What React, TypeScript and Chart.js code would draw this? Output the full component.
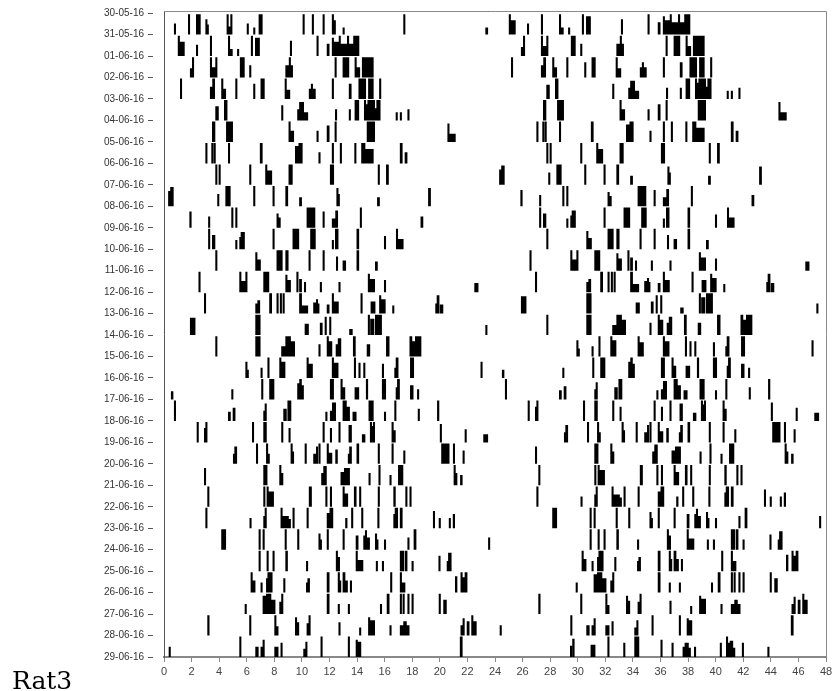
import React, { useEffect, useRef } from 'react';
import { Chart, registerables } from 'chart.js';

Chart.register(...registerables);

const dateLabels = [
  '30-05-16', '31-05-16', '01-06-16', '02-06-16', '03-06-16', '04-06-16', '05-06-16', '06-06-16',
  '07-06-16', '08-06-16', '09-06-16', '10-06-16', '11-06-16', '12-06-16', '13-06-16', '14-06-16',
  '15-06-16', '16-06-16', '17-06-16', '18-06-16', '19-06-16', '20-06-16', '21-06-16', '22-06-16',
  '23-06-16', '24-06-16', '25-06-16', '26-06-16', '27-06-16', '28-06-16', '29-06-16',
];

const hourTickStep = 2;
const hourMax = 48;

// Activity bouts per day: [start hour, duration hours, relative height 0..1]
const day00 = [[0.72,0.12,0.55],[1.74,0.12,1],[2.32,0.34,1],[3.0,0.1,0.75],[3.1,0.14,0.5],[4.54,0.12,1],[4.66,0.15,0.4],[4.81,0.12,1],[6.0,0.14,0.55],[6.47,0.14,0.35],[6.86,0.29,1],[10.05,0.12,1],[10.72,0.12,1],[11.5,0.12,1],[12.17,0.1,1],[12.27,0.19,0.7],[12.95,0.15,0.35],[17.35,0.13,1],[23.3,0.2,0.35]];
const day01 = [[1.0,0.12,1],[1.12,0.38,0.7],[2.32,0.15,0.55],[3.33,0.15,1],[4.64,0.14,1],[4.78,0.2,0.35],[5.3,0.15,0.35],[6.3,0.12,1],[6.6,0.35,0.9],[9.13,0.15,0.75],[11.06,0.12,1],[11.8,0.2,0.6],[12.17,0.1,0.9],[12.27,0.4,0.7],[12.67,0.1,1],[12.77,0.5,0.6],[13.27,0.1,1],[13.37,0.35,0.6],[13.72,0.44,1]];
const day02 = [[1.88,0.15,0.45],[2.03,0.12,1],[3.33,0.15,1],[3.48,0.25,0.5],[3.72,0.15,1],[5.5,0.35,1],[6.18,0.12,0.6],[8.8,0.25,0.6],[9.05,0.1,1],[9.15,0.2,0.6],[12.37,0.12,1],[12.95,0.48,1],[13.82,0.1,1],[13.92,0.3,0.5],[14.35,0.85,1]];
const day03 = [[1.16,0.14,1],[3.33,0.17,0.6],[3.5,0.2,1],[4.15,0.1,1],[4.25,0.25,0.5],[5.17,0.13,1],[6.47,0.13,0.75],[7.0,0.3,1],[8.75,0.1,1],[8.85,0.3,0.45],[10.5,0.15,0.5],[10.65,0.12,0.75],[10.77,0.23,0.5],[12.17,0.12,1],[13.4,0.2,0.75],[14.1,0.55,1],[14.8,0.4,1],[15.6,0.12,1]];
const day04 = [[3.72,0.25,0.7],[4.35,0.25,1],[8.5,0.12,0.75],[9.66,0.15,0.55],[9.8,0.35,0.9],[10.15,0.3,0.4],[12.4,0.12,0.55],[13.4,0.12,0.55],[13.82,0.33,1],[14.5,0.1,1],[14.65,0.1,0.8],[14.75,0.55,1],[15.3,0.1,0.6],[15.4,0.3,1],[16.8,0.15,0.4],[17.1,0.15,0.4],[17.65,0.12,0.55]];
const day05 = [[3.48,0.24,1],[4.5,0.5,1],[9.03,0.1,1],[9.13,0.3,0.55],[11.06,0.12,0.55],[11.8,0.2,0.8],[12.37,0.12,1],[14.7,0.6,1],[20.55,0.15,0.9],[20.7,0.45,0.4]];
const day06 = [[3.0,0.12,1],[3.43,0.1,1],[3.6,0.1,1],[4.64,0.15,1],[6.95,0.2,1],[9.5,0.25,0.85],[9.75,0.3,1],[11.2,0.15,0.55],[12.17,0.12,1],[12.75,0.12,1],[13.8,0.12,1],[14.3,0.1,1],[14.45,0.1,1],[14.6,0.6,0.7],[17.1,0.2,1],[17.45,0.2,0.55]];
const day07 = [[3.72,0.12,1],[3.96,0.12,1],[6.18,0.12,1],[7.34,0.1,1],[7.44,0.4,0.7],[9.03,0.3,1],[12.03,0.3,1],[15.5,0.12,1],[16.1,0.2,1]];
const day08 = [[0.3,0.15,0.75],[0.45,0.25,0.95],[3.86,0.12,0.6],[4.45,0.38,1],[6.47,0.15,1],[7.87,0.13,1],[8.8,0.2,1],[9.8,0.2,0.45],[12.5,0.1,0.9],[12.6,0.15,0.6],[15.45,0.2,0.45],[19.15,0.2,0.9]];
const day09 = [[1.84,0.16,0.8],[3.2,0.15,0.55],[4.88,0.15,1],[5.17,0.13,1],[8.16,0.1,0.7],[8.26,0.2,0.5],[10.34,0.63,1],[11.5,0.15,0.8],[12.17,0.25,0.45],[12.42,0.2,0.85],[14.2,0.15,1],[18.6,0.2,0.55]];
const day10 = [[3.2,0.15,1],[3.48,0.24,0.7],[5.17,0.13,0.45],[5.46,0.1,0.6],[5.56,0.3,0.85],[7.87,0.13,1],[9.32,0.48,1],[10.6,0.4,1],[12.17,0.12,0.45],[12.4,0.25,1],[13.96,0.19,1],[15.95,0.15,0.65],[16.82,0.15,1],[16.97,0.4,0.5]];
const day11 = [[3.72,0.15,1],[6.62,0.15,0.9],[6.77,0.25,0.55],[8.16,0.44,1],[8.8,0.23,1],[10.48,0.15,1],[11.5,0.15,1],[12.47,0.12,0.7],[12.95,0.25,0.5],[13.96,0.19,1],[15.3,0.2,0.45]];
const day12 = [[2.5,0.15,1],[5.46,0.15,1],[5.6,0.3,0.55],[5.9,0.15,1],[7.2,0.43,1],[8.8,0.12,0.85],[8.92,0.28,0.6],[9.6,0.15,1],[9.8,0.2,0.65],[10.15,0.15,0.5],[11.3,0.15,0.5],[12.65,0.12,0.5],[14.78,0.12,0.9],[14.9,0.4,0.65],[15.95,0.15,0.6],[22.5,0.3,0.45]];
const day13 = [[2.9,0.15,1],[6.62,0.15,0.5],[6.77,0.2,0.65],[7.63,0.2,1],[8.16,0.12,1],[8.4,0.15,1],[8.6,0.12,1],[9.8,0.2,1],[10.0,0.45,0.4],[10.82,0.2,0.55],[11.02,0.1,0.7],[11.12,0.15,0.5],[11.8,0.2,0.45],[12.17,0.15,1],[12.32,0.35,0.6],[14.25,0.15,1],[14.98,0.35,0.6],[15.6,0.12,0.9],[15.72,0.35,0.7],[16.55,0.15,0.4],[19.67,0.1,0.5],[19.77,0.2,0.9],[20.0,0.25,0.45]];
const day14 = [[1.88,0.4,0.85],[6.62,0.38,1],[10.2,0.3,0.55],[11.3,0.2,0.6],[11.65,0.15,0.9],[11.98,0.12,0.9],[13.43,0.25,0.3],[14.78,0.12,1],[14.95,0.3,0.8],[15.3,0.5,1],[23.3,0.15,0.5]];
const day15 = [[3.72,0.15,1],[6.62,0.38,1],[8.5,0.3,0.5],[8.8,0.4,1],[9.2,0.3,0.75],[11.2,0.12,0.6],[11.8,0.12,1],[11.92,0.28,0.75],[12.45,0.1,0.6],[12.6,0.25,0.9],[13.7,0.2,1],[14.7,0.25,0.6],[16.1,0.25,1],[17.8,0.2,1],[18.0,0.2,0.75],[18.2,0.46,1]];
const day16 = [[5.9,0.1,0.8],[6.0,0.15,0.4],[7.0,0.15,0.5],[7.5,0.13,1],[8.36,0.12,1],[8.48,0.32,0.8],[10.34,0.1,1],[10.44,0.35,0.7],[12.17,0.15,1],[12.32,0.33,0.75],[13.77,0.13,1],[14.1,0.12,0.75],[14.45,0.15,0.75],[15.8,0.15,0.7],[16.7,0.1,0.5],[16.8,0.2,1],[17.84,0.29,1],[22.95,0.15,0.8]];
const day17 = [[0.5,0.18,0.4],[4.88,0.15,0.5],[7.05,0.12,1],[7.63,0.37,1],[9.66,0.15,0.8],[9.81,0.18,1],[9.99,0.15,0.7],[12.03,0.29,1],[12.8,0.1,1],[12.9,0.24,0.6],[13.82,0.33,0.6],[14.64,0.16,1],[15.8,0.3,1],[16.8,0.1,0.6],[16.9,0.2,1],[17.84,0.25,0.7],[18.35,0.15,0.5]];
const day18 = [[0.72,0.15,1],[4.64,0.2,0.45],[4.98,0.2,0.65],[7.2,0.1,0.5],[7.3,0.15,0.85],[8.65,0.25,0.6],[8.95,0.1,1],[9.08,0.1,1],[11.7,0.15,0.45],[12.03,0.15,0.5],[12.18,0.29,0.9],[12.95,0.3,1],[13.25,0.23,0.7],[13.67,0.29,0.45],[14.83,0.37,1],[15.95,0.15,0.45],[16.7,0.13,1],[18.4,0.12,0.6],[19.8,0.16,1]];
const day19 = [[2.37,0.13,1],[2.9,0.1,0.7],[3.0,0.14,1],[6.38,0.12,1],[7.2,0.25,1],[8.5,0.15,1],[9.03,0.15,0.7],[11.5,0.15,1],[12.03,0.14,0.7],[12.65,0.15,1],[13.38,0.24,0.85],[14.35,0.25,0.4],[14.93,0.12,1],[15.05,0.1,0.8],[15.15,0.15,1],[16.5,0.1,1],[16.6,0.2,0.6],[20.0,0.12,0.9],[21.8,0.15,0.65],[23.15,0.35,0.4]];
const day20 = [[5.0,0.1,0.5],[5.1,0.2,0.85],[6.67,0.13,1],[7.4,0.12,1],[7.52,0.11,0.5],[9.18,0.1,1],[9.28,0.14,0.6],[10.2,0.12,1],[10.82,0.2,0.5],[11.02,0.15,0.85],[11.2,0.1,1],[11.8,0.1,1],[11.9,0.3,0.55],[12.42,0.18,0.7],[13.33,0.1,0.5],[13.43,0.19,0.85],[13.96,0.19,1],[15.5,0.15,1],[16.5,0.15,1],[17.35,0.15,0.65],[20.1,0.6,1],[20.95,0.15,1],[21.65,0.15,0.65]];
const day21 = [[2.9,0.15,0.85],[7.2,0.3,1],[8.36,0.12,1],[8.48,0.17,0.6],[11.4,0.15,0.6],[11.55,0.25,0.95],[12.8,0.25,0.65],[13.05,0.43,0.85],[14.83,0.15,0.6],[15.55,0.15,1],[16.35,0.15,0.5],[16.97,0.38,1],[21.0,0.1,1],[21.1,0.17,0.6],[21.47,0.18,0.5]];
const day22 = [[3.14,0.15,1],[7.2,0.12,1],[7.44,0.1,1],[7.54,0.43,0.75],[10.5,0.22,1],[11.7,0.12,1],[12.03,0.12,1],[12.95,0.1,1],[13.05,0.3,0.65],[13.77,0.19,1],[14.15,0.12,1],[15.5,0.12,1],[16.63,0.17,1],[17.5,0.12,1],[17.8,0.12,1]];
const day23 = [[3.0,0.14,1],[6.2,0.12,0.5],[7.2,0.1,0.6],[7.3,0.14,1],[8.45,0.15,1],[8.6,0.45,0.6],[9.05,0.12,0.45],[9.32,0.15,1],[10.34,0.14,1],[11.8,0.2,0.75],[12.0,0.27,1],[13.14,0.16,0.5],[13.57,0.13,1],[14.3,0.15,1],[15.47,0.13,1],[16.63,0.1,0.7],[16.73,0.24,1],[17.1,0.2,1],[19.5,0.12,0.85],[19.92,0.12,0.5],[20.65,0.12,0.5],[20.94,0.16,0.7]];
const day24 = [[4.15,0.35,1],[6.86,0.14,1],[7.15,0.15,1],[8.75,0.15,1],[9.66,0.14,1],[11.2,0.1,0.8],[11.3,0.15,0.5],[11.8,0.13,1],[12.95,0.15,1],[13.9,0.2,0.7],[14.45,0.12,0.7],[14.57,0.13,0.95],[14.7,0.23,0.6],[15.3,0.1,0.8],[15.4,0.15,0.5],[15.95,0.15,0.5],[17.65,0.15,0.6],[18.1,0.2,1],[23.5,0.12,0.6]];
const day25 = [[6.86,0.14,1],[7.44,0.14,1],[7.87,0.13,1],[8.8,0.18,1],[10.3,0.13,0.5],[12.46,0.1,1],[12.56,0.2,0.7],[13.9,0.15,1],[14.05,0.4,0.55],[15.36,0.14,0.5],[15.8,0.15,0.5],[17.1,0.1,1],[17.25,0.1,1],[17.45,0.2,1],[17.95,0.15,0.5],[19.9,0.15,0.75],[20.5,0.1,0.5],[20.6,0.25,0.9]];
const day26 = [[6.28,0.1,1],[6.38,0.25,0.6],[7.0,0.15,0.5],[7.4,0.1,0.7],[7.5,0.37,1],[8.65,0.15,0.7],[10.3,0.1,0.5],[10.4,0.18,0.7],[11.8,0.2,1],[12.6,0.1,1],[12.7,0.15,0.6],[12.95,0.2,1],[13.15,0.18,0.6],[13.48,0.14,0.6],[16.4,0.12,1],[17.1,0.12,1],[17.22,0.28,0.5],[21.1,0.17,0.8],[21.5,0.12,1],[21.62,0.18,0.75],[21.8,0.2,1]];
const day27 = [[5.85,0.15,0.5],[7.15,0.25,0.9],[7.4,0.38,1],[7.78,0.3,0.7],[8.36,0.14,0.6],[8.5,0.15,1],[11.8,0.2,1],[12.6,0.15,0.5],[13.33,0.15,0.5],[15.66,0.14,0.5],[16.15,0.2,1],[17.1,0.12,1],[17.3,0.15,1],[17.65,0.15,1],[17.95,0.15,1],[19.92,0.15,1],[20.25,0.25,0.7]];
const day28 = [[3.14,0.16,1],[6.18,0.15,1],[8.0,0.1,1],[8.1,0.2,0.45],[9.5,0.15,0.9],[9.65,0.15,0.65],[10.34,0.1,0.6],[10.48,0.12,1],[12.65,0.12,0.65],[14.15,0.12,0.4],[14.8,0.15,0.9],[14.95,0.35,0.75],[16.35,0.15,0.5],[17.1,0.25,0.5],[17.35,0.25,0.7],[17.6,0.2,0.5],[21.5,0.15,0.5],[21.65,0.15,0.85],[21.95,0.2,0.7],[22.28,0.1,1],[22.38,0.29,0.7]];
const day29 = [[0.34,0.14,0.5],[5.46,0.14,1],[6.62,0.24,0.5],[7.0,0.15,0.5],[7.15,0.15,0.85],[8.0,0.3,0.5],[8.45,0.15,0.7],[10.1,0.15,0.4],[10.25,0.15,0.75],[11.35,0.15,1],[13.33,0.15,1],[13.9,0.15,0.85],[14.05,0.25,0.75],[21.45,0.2,1]];
const day30 = [[5.44,0.15,0.55],[5.6,0.17,0.9],[6.93,0.35,0.6],[8.15,0.12,1],[9.3,0.15,0.7],[10.1,0.36,1],[12.0,0.15,0.85],[12.8,0.13,0.7],[13.6,0.15,0.5],[13.75,0.3,0.7],[14.05,0.1,0.45],[14.43,0.14,0.5],[16.3,0.12,0.7],[16.75,0.12,1],[16.87,0.15,0.7],[17.02,0.25,0.8],[17.27,0.13,0.45],[17.9,0.15,0.7],[19.75,0.15,0.5]];

const days = [
  day00, day01, day02, day03, day04, day05, day06, day07, day08, day09, day10,
  day11, day12, day13, day14, day15, day16, day17, day18, day19, day20,
  day21, day22, day23, day24, day25, day26, day27, day28, day29, day30,
];

const BAR_SCALE = 0.95;
const MIN_WIDTH = 0.15;

function bandPoints(k: number) {
  const base = k + 1;
  const segs = [
    ...days[k].map(([s, w, h]) => [s, w, h]),
    ...days[k + 1].map(([s, w, h]) => [s + 24, w, h]),
  ].sort((a, b) => a[0] - b[0]);
  const pts: { x: number; y: number }[] = [{ x: 0, y: base }];
  for (const [s, w, h] of segs) {
    pts.push({ x: s, y: base - BAR_SCALE * h });
    pts.push({ x: s + Math.max(w, MIN_WIDTH), y: base });
  }
  pts.push({ x: hourMax, y: base });
  return pts;
}

const framePlugin = {
  id: 'frame',
  afterDraw(chart: any) {
    const { ctx, chartArea } = chart;
    ctx.save();
    ctx.strokeStyle = '#8a8a8a';
    ctx.lineWidth = 1;
    ctx.beginPath();
    ctx.moveTo(chartArea.left, chartArea.top + 0.5);
    ctx.lineTo(chartArea.right + 0.5, chartArea.top + 0.5);
    ctx.lineTo(chartArea.right + 0.5, chartArea.bottom);
    ctx.stroke();
    ctx.restore();
  },
};

export default function App() {
  const canvasRef = useRef<HTMLCanvasElement | null>(null);

  useEffect(() => {
    if (!canvasRef.current) return;
    const datasets = [];
    for (let k = 0; k < days.length - 1; k++) {
      datasets.push({
        data: bandPoints(k),
        stepped: 'before' as const,
        fill: { value: k + 1 },
        backgroundColor: '#000',
        borderColor: 'rgba(0,0,0,0)',
        borderWidth: 0,
        pointRadius: 0,
        tension: 0,
      });
    }
    const yFont = { family: "'Liberation Sans', Arial, sans-serif", size: 10 };
    const xFont = { family: "'Liberation Sans', Arial, sans-serif", size: 11 };
    const chart = new Chart(canvasRef.current, {
      type: 'line',
      data: { datasets },
      plugins: [framePlugin],
      options: {
        animation: false,
        responsive: false,
        devicePixelRatio: 1,
        events: [],
        layout: { padding: { top: 11, right: 10, left: 0, bottom: 0 } },
        plugins: { legend: { display: false }, tooltip: { enabled: false } },
        scales: {
          x: {
            type: 'linear',
            min: 0,
            max: hourMax,
            afterFit: (scale: any) => { scale.height = 34; },
            ticks: { stepSize: hourTickStep, color: '#444', font: xFont, padding: 3, maxRotation: 0 },
            grid: { drawOnChartArea: false, tickLength: 5, tickColor: '#888', tickWidth: 1 },
            border: { color: '#888', width: 2 },
          },
          y: {
            type: 'linear',
            reverse: true,
            min: -0.1,
            max: dateLabels.length - 1,
            afterFit: (scale: any) => { scale.width = 164; },
            afterBuildTicks: (scale: any) => {
              scale.ticks = dateLabels.map((_, i) => ({ value: i }));
            },
            ticks: {
              autoSkip: false,
              color: '#333',
              font: yFont,
              padding: 4,
              callback: (v: any) => dateLabels[Math.round(Number(v))] ?? '',
            },
            grid: {
              drawOnChartArea: false,
              tickLength: 16,
              tickColor: '#555',
              tickWidth: 1,
              tickBorderDash: [5, 40],
            },
            border: { color: '#555', width: 1 },
          },
        },
      },
    } as any);
    return () => chart.destroy();
  }, []);

  return (
    <div style={{ position: 'absolute', left: 0, top: 0, width: 836, height: 691, overflow: 'hidden', background: '#fff' }}>
      <canvas ref={canvasRef} width={836} height={691} style={{ width: 836, height: 691, display: 'block' }} />
      <div style={{ position: 'absolute', left: 12, top: 668, fontFamily: "'DejaVu Serif', serif", fontSize: 25, lineHeight: '25px' }}>Rat3</div>
    </div>
  );
}
